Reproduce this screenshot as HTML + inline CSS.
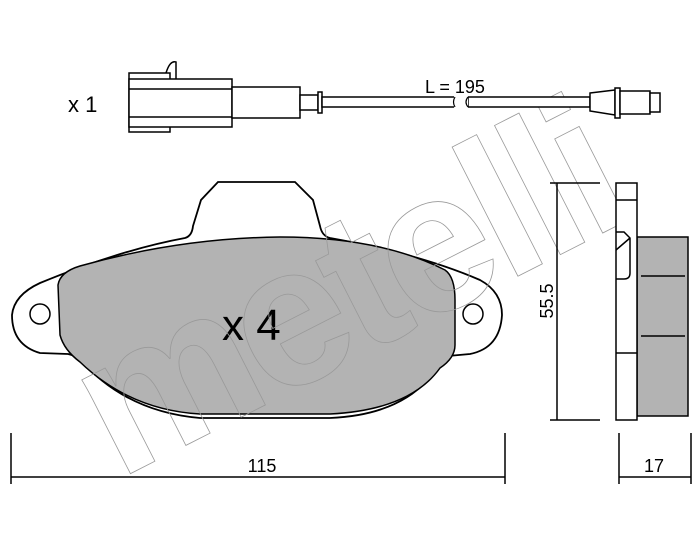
<!DOCTYPE html>
<html><head><meta charset="utf-8"><style>html,body{margin:0;padding:0;background:#fff}svg{display:block}</style></head>
<body>
<svg width="700" height="545" viewBox="0 0 700 545" xmlns="http://www.w3.org/2000/svg" font-family="Liberation Sans, sans-serif">
<rect width="700" height="545" fill="#fff"/>
<path d="M218,182 L295,182 L313,200 L320,226 Q322,236 330,238 Q420,254 480,280 Q502,292 502,315 Q500,348 470,354 L448,356 Q440,360 432,375 Q400,415 330,418 L200,418 Q130,412 85,365 Q78,356 68,354 L40,353 Q12,345 12,315 Q14,295 40,283 Q120,250 185,238 Q192,236 193,226 L201,200 Z" fill="#fff" stroke="#000" stroke-width="1.8"/>
<path d="M58,285 Q60,272 80,266 Q180,238 280,237 Q380,237 445,270 Q455,277 455,300 L455,345 Q455,358 440,368 Q410,410 330,414 L200,414 Q130,410 80,362 Q64,350 60,335 Z" fill="#b3b3b3" stroke="#000" stroke-width="1.5"/>
<circle cx="40" cy="314" r="10" fill="#fff" stroke="#000" stroke-width="1.5"/>
<circle cx="473" cy="314" r="10" fill="#fff" stroke="#000" stroke-width="1.5"/>
<text x="222" y="340" font-size="44" fill="#000">x 4</text>
<text x="0" y="0" font-size="200" font-weight="bold" fill="none" stroke="#999" stroke-width="0.8" transform="translate(118,480) rotate(-27)" letter-spacing="-8">metelli</text>
<g stroke="#000" stroke-width="1.5" fill="#fff">
<path d="M166,73 Q170,60 176,62 L176,80" fill="none"/>
<rect x="129" y="73" width="41" height="59"/>
<rect x="129" y="79" width="103" height="48"/>
<line x1="129" y1="89" x2="232" y2="89"/>
<line x1="129" y1="117" x2="232" y2="117"/>
<rect x="232" y="87" width="68" height="31"/>
<rect x="300" y="95" width="18" height="15"/>
<rect x="318" y="92" width="4" height="21"/>
<rect x="322" y="97" width="133" height="10"/>
<rect x="468" y="97" width="122" height="10"/>
<path d="M590,93 L615,90 L615,115 L590,111 Z"/>
<rect x="615" y="88" width="5" height="30"/>
<rect x="620" y="91" width="30" height="23"/>
<rect x="650" y="93" width="10" height="19"/>
</g>
<rect x="454" y="95" width="14" height="14" fill="#fff"/>
<path d="M455,97 Q452,102 455,107 M468,97 Q464,102 468,107" stroke="#000" stroke-width="1.2" fill="none"/>
<text x="68" y="112" font-size="22">x 1</text>
<text x="425" y="93" font-size="18">L = 195</text>
<g stroke="#000" stroke-width="1.5" fill="none">
<line x1="557" y1="183" x2="557" y2="420"/>
<line x1="550" y1="183" x2="600" y2="183"/>
<line x1="550" y1="420" x2="600" y2="420"/>
<rect x="637" y="237" width="51" height="179" fill="#b3b3b3"/>
<rect x="616" y="183" width="21" height="237" fill="#fff"/>
<line x1="616" y1="200" x2="637" y2="200"/>
<line x1="616" y1="353" x2="637" y2="353"/>
<path d="M616,232 L624,232 L630,238 L630,273 Q630,279 624,279 L616,279 M616,250 L630,238"/>
<line x1="641" y1="276" x2="685" y2="276"/>
<line x1="641" y1="336" x2="685" y2="336"/>
<line x1="11" y1="433" x2="11" y2="484"/>
<line x1="505" y1="433" x2="505" y2="484"/>
<line x1="11" y1="477" x2="505" y2="477"/>
<line x1="619" y1="433" x2="619" y2="484"/>
<line x1="691" y1="433" x2="691" y2="484"/>
<line x1="619" y1="477" x2="691" y2="477"/>
</g>
<text x="0" y="0" font-size="18" text-anchor="middle" transform="translate(553,301) rotate(-90)">55.5</text>
<text x="262" y="472" font-size="18" text-anchor="middle">115</text>
<text x="654" y="472" font-size="18" text-anchor="middle">17</text>
</svg>
</body></html>
